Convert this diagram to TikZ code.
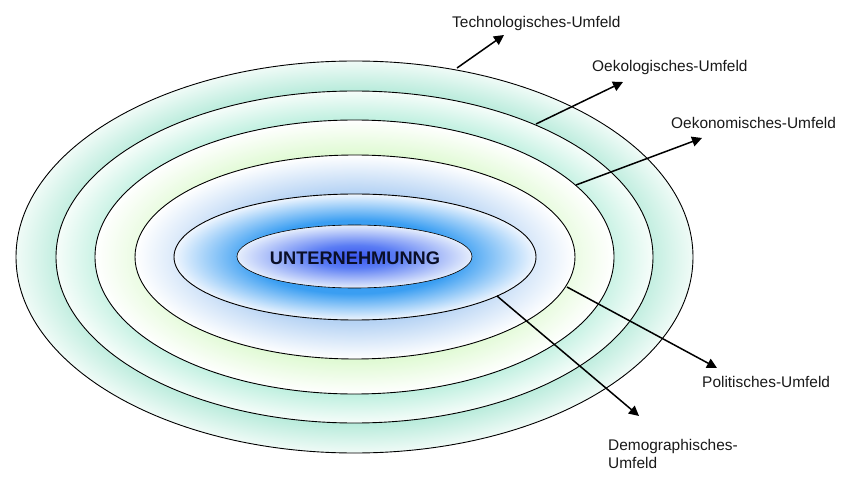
\documentclass[tikz,border=0pt]{standalone}
\usepackage{fontspec}
\setmainfont{Liberation Sans}
\usetikzlibrary{arrows.meta,shapes.geometric}
\definecolor{cE1}{HTML}{A6E6D2}
\definecolor{cE1o}{HTML}{F0FBF7}
\definecolor{cE2}{HTML}{BCEFDE}
\definecolor{cE2o}{HTML}{F6FDFA}
\definecolor{cE3}{HTML}{E0FAD4}
\definecolor{cE4}{HTML}{B6D3F4}
\definecolor{cE5}{HTML}{3A9EF2}
\definecolor{cE5o}{HTML}{F0F6FE}
\definecolor{cIn}{HTML}{3A55EE}
\definecolor{cInm}{HTML}{5A7CF4}
\definecolor{cIno}{HTML}{E6EEFC}
\definecolor{txtdark}{HTML}{0A0F28}
\pgfdeclareradialshading{shEone}{\pgfpoint{0bp}{0bp}}{color(0bp)=(cE1); color(20bp)=(cE1); color(25bp)=(cE1o); color(50bp)=(cE1o)}
\pgfdeclareradialshading{shEtwo}{\pgfpoint{0bp}{0bp}}{color(0bp)=(cE2); color(20.5bp)=(cE2); color(25bp)=(cE2o); color(50bp)=(cE2o)}
\pgfdeclareradialshading{shEthree}{\pgfpoint{0bp}{0bp}}{color(0bp)=(cE3); color(19bp)=(cE3); color(25bp)=(white); color(50bp)=(white)}
\pgfdeclareradialshading{shEfour}{\pgfpoint{0bp}{0bp}}{color(0bp)=(cE4); color(16bp)=(cE4); color(25bp)=(white); color(50bp)=(white)}
\pgfdeclareradialshading{shEfive}{\pgfpoint{0bp}{0bp}}{color(0bp)=(cE5); color(14.5bp)=(cE5); color(25bp)=(cE5o); color(50bp)=(cE5o)}
\pgfdeclareradialshading{shEin}{\pgfpoint{0bp}{0bp}}{color(0bp)=(cIn); color(9bp)=(cInm); color(25bp)=(cIno); color(50bp)=(cIno)}
\tikzset{
  ring/.style={ellipse, draw=black, line width=0.9bp, inner sep=0pt, outer sep=0pt},
  arr/.style={line width=1.5bp, -{Triangle[length=10bp,width=10bp]}},
  lbl/.style={anchor=west, inner sep=0pt, font=\fontsize{15.5}{18}\selectfont, text=black!90}
}
\begin{document}
\begin{tikzpicture}[x=1bp,y=-1bp]
\useasboundingbox (0,0) rectangle (842,487);
% ellipses (outer to inner)
\node[ring, shading=shEone,   minimum width=677bp, minimum height=392bp] (E1) at (354.5,257) {};
\node[ring, shading=shEtwo,   minimum width=597bp, minimum height=332bp] (E2) at (354.5,257) {};
\node[ring, shading=shEthree, minimum width=519bp, minimum height=274bp] (E3) at (354.5,257) {};
\node[ring, shading=shEfour,  minimum width=440bp, minimum height=204bp] (E4) at (355,257) {};
\node[ring, shading=shEfive,  minimum width=362bp, minimum height=126bp] (E5) at (355,257) {};
\node[ring, shading=shEin, line width=0.6bp, minimum width=235bp, minimum height=63bp] (core) at (354.5,256.5) {};
\node[inner sep=0pt, text=txtdark, font=\fontsize{18.3}{21}\selectfont\bfseries] (unt) at (355,258) {UNTERNEHMUNNG};
% arrow anchor points
\coordinate (s1) at (457,68);  \coordinate (e1) at (504,35);
\coordinate (s2) at (536,124); \coordinate (e2) at (623,82);
\coordinate (s3) at (576,185); \coordinate (e3) at (702,138);
\coordinate (s4) at (567,287); \coordinate (e4) at (717,368);
\coordinate (s5) at (497,296); \coordinate (e5) at (639,416);
\draw[arr] (s1) -- (e1);
\draw[arr] (s2) -- (e2);
\draw[arr] (s3) -- (e3);
\draw[arr] (s4) -- (e4);
\draw[arr] (s5) -- (e5);
% labels
\node[lbl] (l1) at (452,24) {Technologisches-Umfeld};
\node[lbl] (l2) at (592,68) {Oekologisches-Umfeld};
\node[lbl] (l3) at (671,123) {Oekonomisches-Umfeld};
\node[lbl] (l4) at (702,382) {Politisches-Umfeld};
\node[lbl, align=left] (l5) at (608,454) {Demographisches-\\Umfeld};
\end{tikzpicture}
\end{document}
